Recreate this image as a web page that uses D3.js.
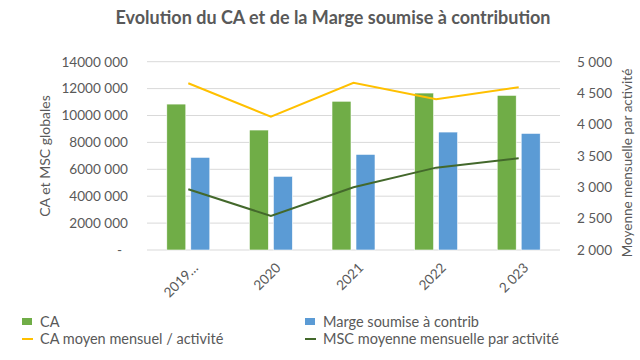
<!DOCTYPE html>
<html><head><meta charset="utf-8">
<script src="https://cdn.jsdelivr.net/npm/d3@7"></script>
<style>body{margin:0;background:#fff}svg{display:block}text{font-family:Lato,"Open Sans",sans-serif;fill:#595959}</style>
</head><body><svg id="c" width="640" height="360"></svg>
<script>
const categories = ["2019…","2020","2021","2022","2 023"];
const caValues = [10850000, 8920000, 11060000, 11670000, 11500000];
const mscValues = [6890000, 5480000, 7110000, 8770000, 8670000];
const caMoyen = [4656, 4124, 4665, 4401, 4592];
const mscMoyenne = [2967, 2542, 2999, 3312, 3461];
const leftTicks = [0,2000000,4000000,6000000,8000000,10000000,12000000,14000000];
const rightTicks = [2000,2500,3000,3500,4000,4500,5000];
const title = "Evolution du CA et de la Marge soumise à contribution";

const svg = d3.select("#c");
const m = {l:147, r:560, t:61.7, b:250};
const x = d3.scaleBand().domain(categories).range([m.l,m.r]);
const yL = d3.scaleLinear().domain([0,14000000]).range([m.b,m.t]);
const yR = d3.scaleLinear().domain([2000,5000]).range([m.b,m.t]);
const fmtR = d => d3.format(",")(d).replace(/,/g," ");

svg.append("text").attr("x",333).attr("y",24).attr("text-anchor","middle")
  .style("font-size","18px").style("font-weight","bold").text(title);

// gridlines
svg.append("g").selectAll("line").data(leftTicks).join("line")
  .attr("x1",m.l).attr("x2",m.r).attr("y1",d=>yL(d)).attr("y2",d=>yL(d))
  .attr("stroke","#d9d9d9").attr("stroke-width",1);

// left axis
const gl = svg.append("g").attr("transform",`translate(${m.l},0)`)
  .call(d3.axisLeft(yL).tickValues(leftTicks).tickFormat(d=>{
    if(d===0) return "-";
    const mil = Math.floor(d/1000000), rest = (d%1000000)/1000;
    return mil + "" + (rest===0?"000":d3.format("03")(rest)) + " 000";
  }).tickSize(0).tickPadding(19));
gl.select(".domain").remove();
gl.selectAll("text").style("font-size","13.6px").attr("fill","#595959")
  .attr("dx",d=>d===0?"-6":null);

// right axis
const gr = svg.append("g").attr("transform",`translate(${m.r},0)`)
  .call(d3.axisRight(yR).tickValues(rightTicks).tickFormat(fmtR).tickSize(0).tickPadding(17));
gr.select(".domain").remove();
gr.selectAll("text").style("font-size","13.6px").attr("fill","#595959");

// axis titles
svg.append("text").attr("transform","translate(50,156) rotate(-90)").attr("text-anchor","middle")
  .style("font-size","14px").text("CA et MSC globales");
svg.append("text").attr("transform","translate(632,163) rotate(-90)").attr("text-anchor","middle")
  .style("font-size","13.5px").text("Moyenne mensuelle par activité");

// bars
const bw = 19, gap = 5;
svg.append("g").selectAll("rect").data(caValues).join("rect")
  .attr("x",(d,i)=>x(categories[i])+x.bandwidth()/2-bw-gap/2)
  .attr("y",d=>yL(d)).attr("width",bw).attr("height",d=>yL(0)-yL(d))
  .attr("fill","#70AD47").attr("stroke","#fff").attr("stroke-width",0.6);
svg.append("g").selectAll("rect").data(mscValues).join("rect")
  .attr("x",(d,i)=>x(categories[i])+x.bandwidth()/2+gap/2)
  .attr("y",d=>yL(d)).attr("width",bw).attr("height",d=>yL(0)-yL(d))
  .attr("fill","#5B9BD5").attr("stroke","#fff").attr("stroke-width",0.6);

// x labels
svg.append("g").selectAll("text").data(categories).join("text")
  .attr("transform",d=>`translate(${x(d)+x.bandwidth()/2+4},${m.b+12}) rotate(-45)`)
  .attr("text-anchor","end").attr("dy","0.7em").style("font-size","13.6px").text(d=>d);

// lines
const cx = i => x(categories[i])+x.bandwidth()/2;
svg.append("path").datum(caMoyen).attr("fill","none").attr("stroke","#FFC000").attr("stroke-width",2)
  .attr("d",d3.line().x((d,i)=>cx(i)).y(d=>yR(d)));
svg.append("path").datum(mscMoyenne).attr("fill","none").attr("stroke","#43682B").attr("stroke-width",2)
  .attr("d",d3.line().x((d,i)=>cx(i)).y(d=>yR(d)));

// legend
const leg = [
  {t:"CA", type:"rect", c:"#70AD47", x:22, y:322},
  {t:"Marge soumise à contrib", type:"rect", c:"#5B9BD5", x:305, y:322},
  {t:"CA moyen mensuel / activité", type:"line", c:"#FFC000", x:22, y:339},
  {t:"MSC moyenne mensuelle par activité", type:"line", c:"#43682B", x:305, y:339}
];
const lg = svg.append("g").selectAll("g").data(leg).join("g");
lg.filter(d=>d.type==="rect").append("rect").attr("x",d=>d.x).attr("y",d=>d.y-4).attr("width",10).attr("height",7).attr("fill",d=>d.c);
lg.filter(d=>d.type==="line").append("line").attr("x1",d=>d.x).attr("x2",d=>d.x+11).attr("y1",d=>d.y).attr("y2",d=>d.y).attr("stroke",d=>d.c).attr("stroke-width",2);
lg.append("text").attr("x",d=>d.x+18).attr("y",d=>d.y).attr("dy","0.35em").style("font-size","14.5px").text(d=>d.t);
</script></body></html>
